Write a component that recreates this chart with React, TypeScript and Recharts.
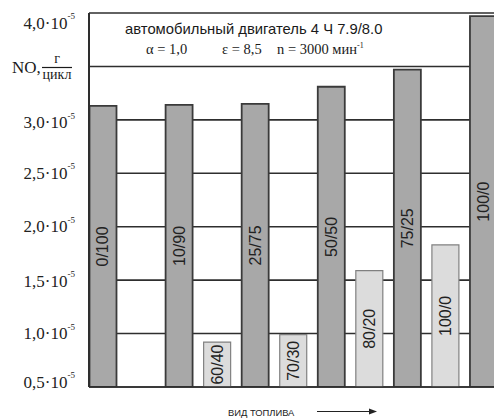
import React from "react";
import { BarChart, Bar, XAxis, YAxis, ReferenceLine, Cell, LabelList } from "recharts";

// Fuel mix per bar (empty slot after the first bar)
const fuelMix = ["0/100", "", "10/90", "60/40", "25/75", "70/30", "50/50", "80/20", "75/25", "100/0", "100/0"];
// NO emission, x10^-5 g/cycle
const noEmission = [3.13, null, 3.14, 0.92, 3.15, 0.99, 3.31, 1.59, 3.47, 1.83, 3.97];
// Fuel group: A = dark bars, B = light bars
const fuelGroup = ["A", "", "A", "B", "A", "B", "A", "B", "A", "B", "A"];

const yTicks = [0.5, 1.0, 1.5, 2.0, 2.5, 3.0, 3.5, 4.0];
const yTickLabels = ["0,5", "1,0", "1,5", "2,0", "2,5", "3,0", "", "4,0"];
const yTickShift = [-5, 0, 1, 0, 0, 3, 0, 10];

const data = fuelMix.map((name, i) => ({ name, value: noEmission[i], group: fuelGroup[i] }));

const serif = "'Liberation Serif', 'Times New Roman', serif";
const sans = "'Liberation Sans', Arial, sans-serif";

const YTick = (props: any) => {
  const { x, y, payload } = props;
  const idx = yTicks.indexOf(payload.value);
  const label = yTickLabels[idx];
  if (!label) return null;
  return (
    <text x={x - 6} y={y + yTickShift[idx]} textAnchor="end" dominantBaseline="central" fontFamily={serif} fontSize={17} fill="#222">
      {label + "·10"}
      <tspan dy={-7} fontSize={9}>-5</tspan>
    </text>
  );
};

const BarLabel = (props: any) => {
  const { x, y, width, height, value } = props;
  if (!value) return null;
  const cx = x + width / 2;
  const cy = y + height / 2;
  return (
    <text x={cx} y={cy} transform={`rotate(-90, ${cx}, ${cy})`} textAnchor="middle" dominantBaseline="central" fontFamily={sans} fontSize={16} fill="#222">
      {value}
    </text>
  );
};

export default function App() {
  return (
    <div style={{ position: "absolute", left: 0, top: 0, width: 494, height: 418, overflow: "hidden", background: "#fff" }}>
      <BarChart width={510} height={418} data={data} margin={{ top: 13, right: 8, bottom: 30, left: 0 }}>
        {yTicks.map((v) => (
          <ReferenceLine key={v} y={v} stroke="#2e2e2e" strokeWidth={1.6} ifOverflow="visible" {...({ zIndex: -100 } as any)} />
        ))}
        <XAxis dataKey="name" type="category" height={1} tick={false} tickLine={false} axisLine={{ stroke: "#2e2e2e", strokeWidth: 1.6 }} padding={{ left: -5.5, right: 0 }} />
        <YAxis type="number" domain={[0.5, 4]} ticks={yTicks} width={89} tick={<YTick />} tickLine={false} axisLine={{ stroke: "#2e2e2e", strokeWidth: 2 }} interval={0} allowDataOverflow />
        <Bar dataKey="value" barSize={27} isAnimationActive={false}>
          {data.map((d, i) => (
            <Cell key={i} fill={d.group === "A" ? "#a8a8a8" : "#dcdcdc"} stroke={d.group === "A" ? "#3a3a3a" : "#808080"} strokeWidth={d.group === "A" ? 1.8 : 1.2} />
          ))}
          <LabelList dataKey="name" content={<BarLabel />} />
        </Bar>
      </BarChart>
      <svg width={494} height={418} style={{ position: "absolute", left: 0, top: 0, pointerEvents: "none" }}>
        <text x={125} y={34} fontFamily={sans} fontSize={14.8} fill="#1a1a1a">автомобильный двигатель 4 Ч 7.9/8.0</text>
        <text y={54} fontFamily={serif} fontSize={14.5} fill="#1a1a1a">
          <tspan x={146}>α = 1,0</tspan>
          <tspan x={222}>ε = 8,5</tspan>
          <tspan x={277}>n = 3000 мин</tspan>
          <tspan dy={-6} fontSize={8}>-1</tspan>
        </text>
        <text x={12} y={73} fontFamily={serif} fontSize={17} fill="#1a1a1a">NO,</text>
        <text x={57} y={63} textAnchor="middle" fontFamily={serif} fontSize={14} fill="#1a1a1a">г</text>
        <line x1={42} x2={72} y1={67.5} y2={67.5} stroke="#1a1a1a" strokeWidth={1.2} />
        <text x={57} y={79} textAnchor="middle" fontFamily={serif} fontSize={14} fill="#1a1a1a">цикл</text>
        <text x={228} y={416} fontFamily={sans} fontSize={9.4} fill="#222">ВИД ТОПЛИВА</text>
        <line x1={317} x2={371} y1={411.5} y2={411.5} stroke="#222" strokeWidth={1} />
        <polygon points="377,411.5 369,408.5 369,414.5" fill="#222" />
      </svg>
    </div>
  );
}
